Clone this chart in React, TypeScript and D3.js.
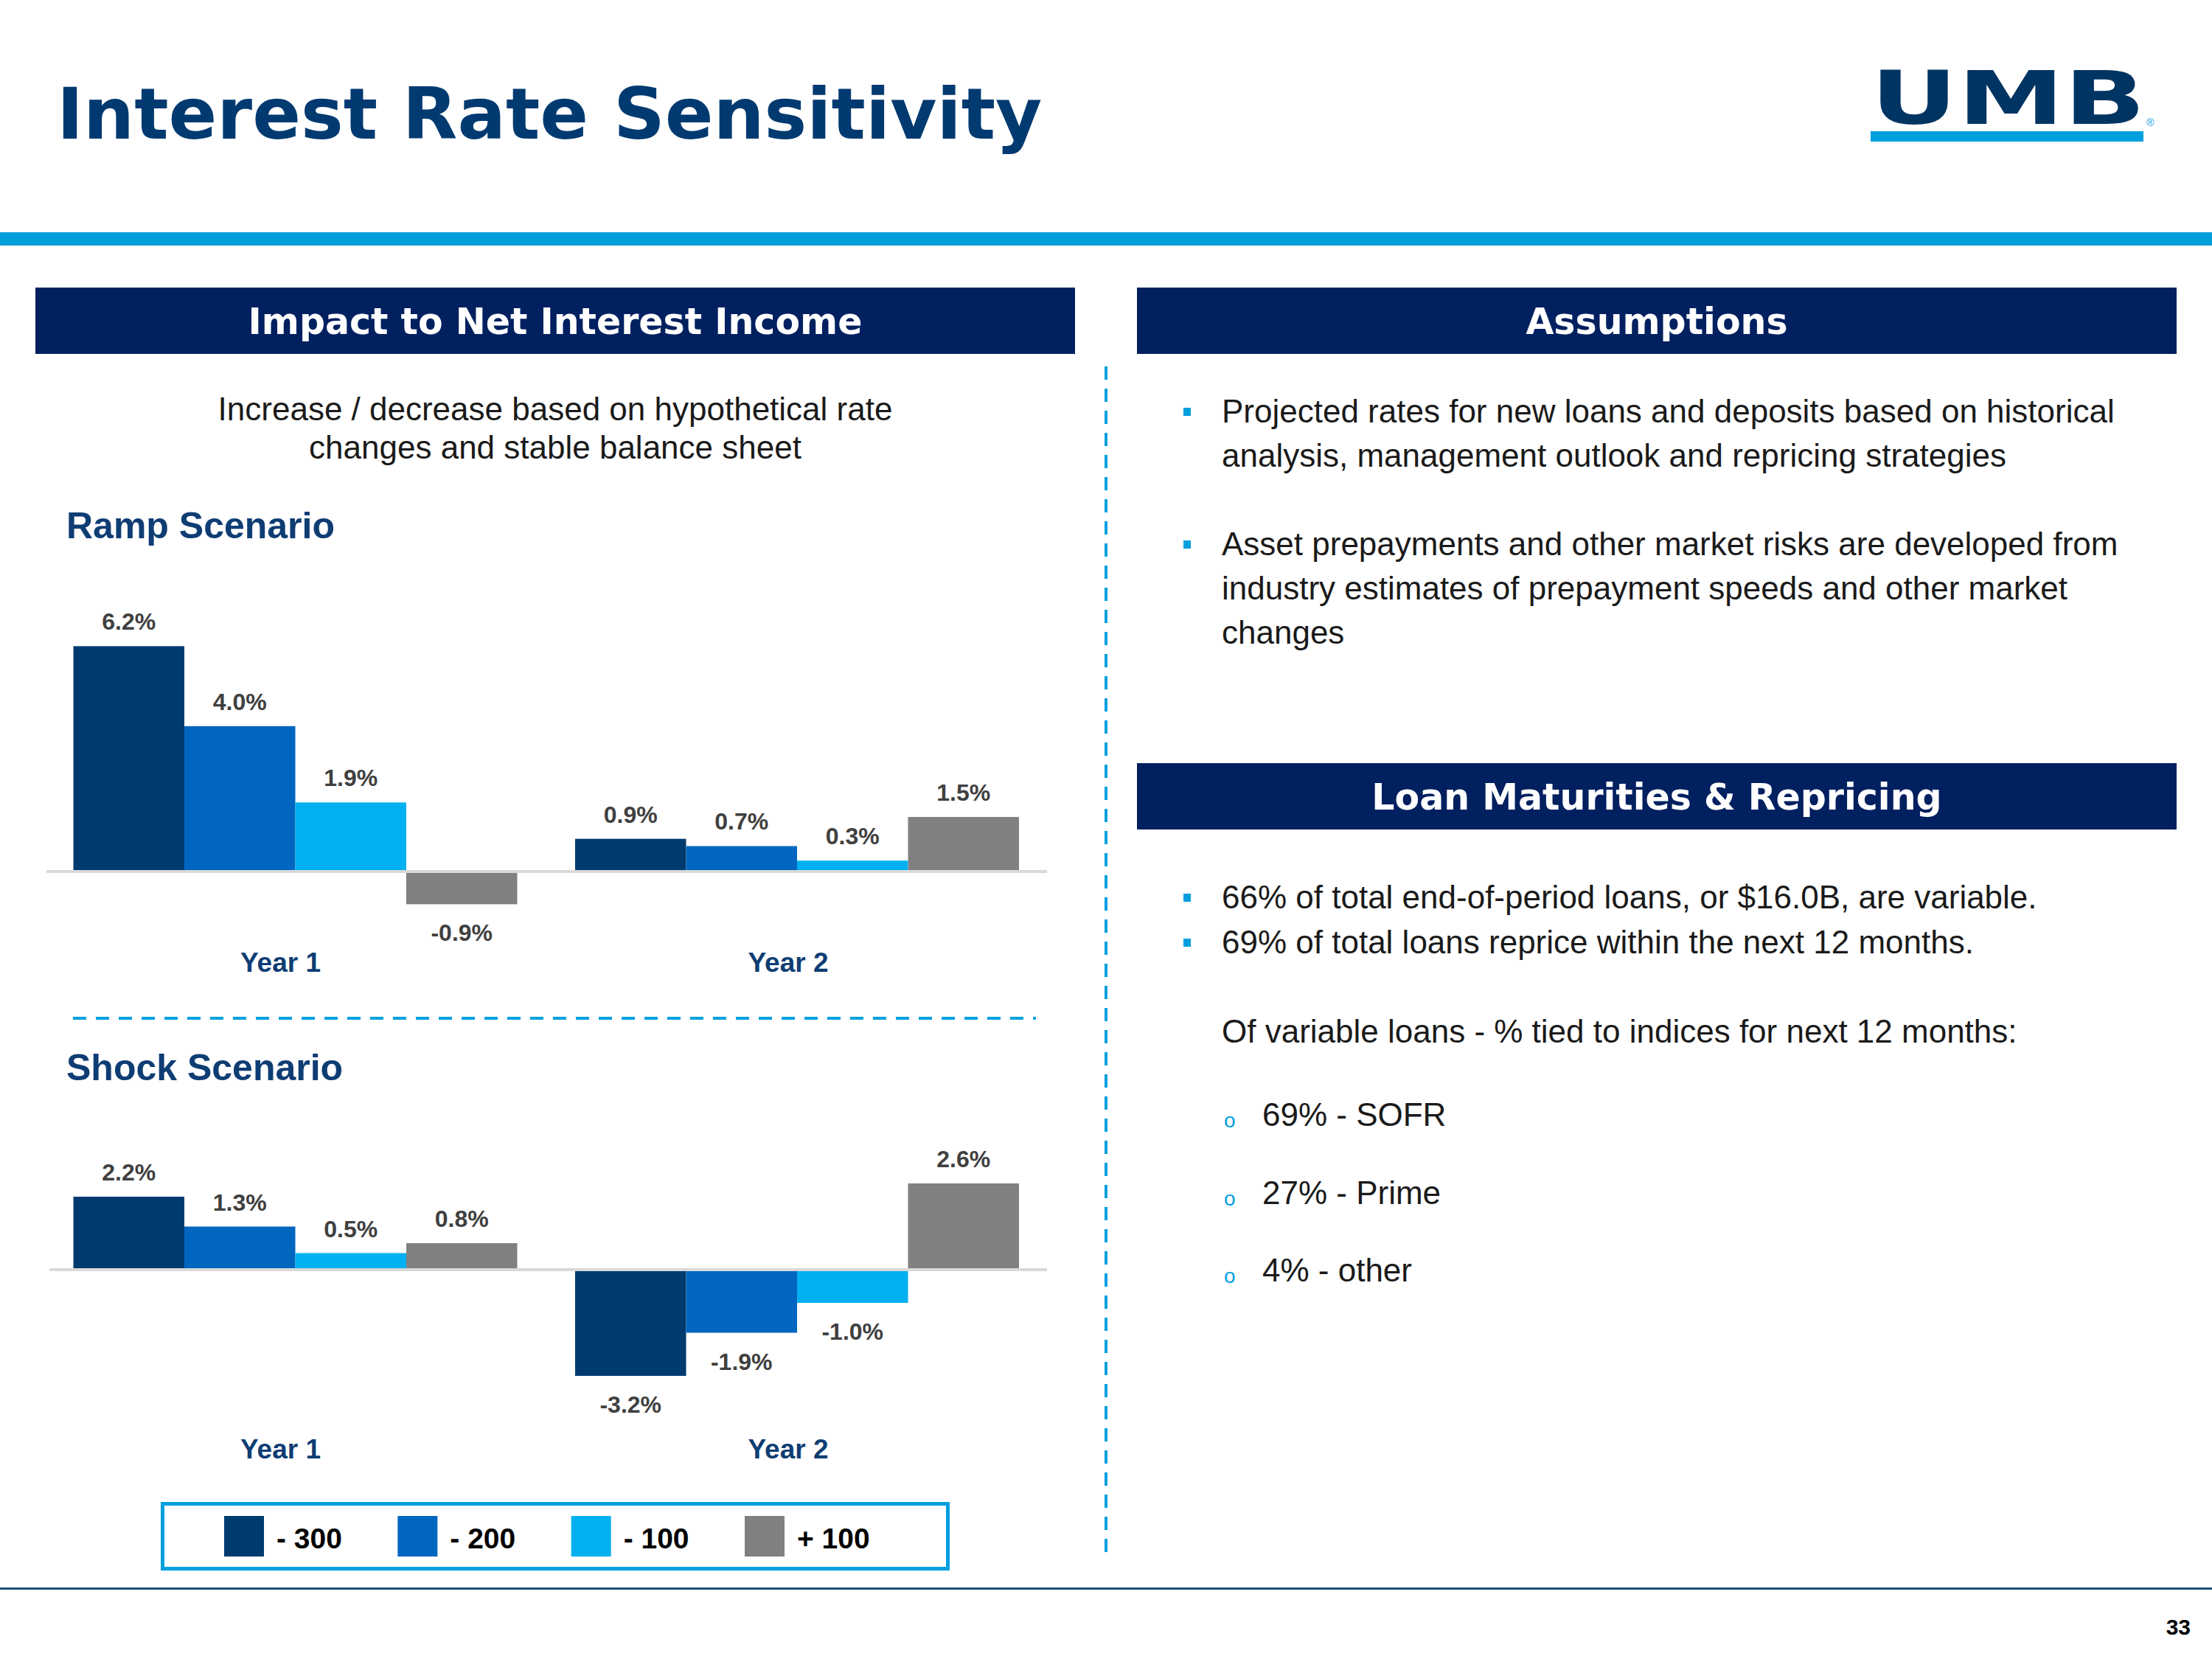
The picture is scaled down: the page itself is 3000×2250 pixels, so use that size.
import React, { useEffect } from 'react';
import * as d3 from 'd3';

const years = ['Year 1', 'Year 2'];
const seriesNames = ['- 300', '- 200', '- 100', '+ 100'];
const seriesColors = ['#003B6F', '#0066C0', '#00B0F0', '#808080'];
const rampValues = [
  [6.2, 4.0, 1.9, -0.9],
  [0.9, 0.7, 0.3, 1.5],
];
const shockValues = [
  [2.2, 1.3, 0.5, 0.8],
  [-3.2, -1.9, -1.0, 2.6],
];
const assumptionBullets = [
  ['Projected rates for new loans and deposits based on historical', 'analysis, management outlook and repricing strategies'],
  ['Asset prepayments and other market risks are developed from', 'industry estimates of prepayment speeds and other market', 'changes'],
];
const loanBullets = [
  '66% of total end-of-period loans, or $16.0B, are variable.',
  '69% of total loans reprice within the next 12 months.',
];
const indexLine = 'Of variable loans - % tied to indices for next 12 months:';
const indexItems = ['69% - SOFR', '27% - Prime', '4% - other'];

const ARIAL = "'Liberation Sans', Arial, sans-serif";
const VERDANA = "'DejaVu Sans', Verdana, sans-serif";
const NAVY = '#002060';
const TITLE_BLUE = '#003A70';
const LIGHT_BLUE = '#00A0DF';

function BarChart({ values, domain, range, lineX0 }: { values: number[][]; domain: [number, number]; range: [number, number]; lineX0: number }) {
  const x0 = d3.scaleBand<string>().domain(years).range([99.5, 1382]).paddingInner(0.1154).paddingOuter(0);
  const x1 = d3.scaleBand<string>().domain(seriesNames).range([0, x0.bandwidth()]).padding(0);
  const y = d3.scaleLinear().domain(domain).range(range);
  const fmt = (v: number) => v.toFixed(1) + '%';
  return (
    <g>
      {years.map((yr, gi) => (
        <g key={yr} transform={`translate(${x0(yr)},0)`}>
          {values[gi].map((v, si) => {
            const top = y(Math.max(0, v));
            const bot = y(Math.min(0, v));
            const cx = (x1(seriesNames[si]) as number) + x1.bandwidth() / 2;
            return (
              <g key={si}>
                <rect x={x1(seriesNames[si])} y={top} width={x1.bandwidth()} height={bot - top} fill={seriesColors[si]} />
                <text x={cx} y={v >= 0 ? top - 22 : bot + 50} textAnchor="middle" fontFamily={ARIAL} fontWeight="bold" fontSize={32} fill="#404040">{fmt(v)}</text>
              </g>
            );
          })}
        </g>
      ))}
      <line x1={lineX0} x2={1420} y1={y(0)} y2={y(0)} stroke="#D9D9D9" strokeWidth={4} />
    </g>
  );
}

function YearLabels({ yPos }: { yPos: number }) {
  const x0 = d3.scaleBand<string>().domain(years).range([99.5, 1382]).paddingInner(0.1154).paddingOuter(0);
  return (
    <g>
      {years.map((yr, i) => (
        <text key={yr} x={(x0(yr) as number) + x0.bandwidth() / 2 - 20 + 8 * i} y={yPos} textAnchor="middle" fontFamily={ARIAL} fontWeight="bold" fontSize={37} fill="#0E3D73">{yr}</text>
      ))}
    </g>
  );
}

export default function App() {
  useEffect(() => {
    document.body.style.margin = '0';
  }, []);
  const legendX = d3.scaleLinear().domain([0, 3]).range([304, 1010]);
  return (
    <svg width={3000} height={2250} viewBox="0 0 3000 2250" style={{ display: 'block', position: 'absolute', left: 0, top: 0, background: '#fff' }}>
      <rect x={0} y={0} width={3000} height={2250} fill="#fff" />
      {/* Title */}
      <text x={77} y={188} fontFamily={VERDANA} fontWeight="bold" fontSize={97} fill={TITLE_BLUE}>Interest Rate Sensitivity</text>
      {/* Logo */}
      <text x={2537} y={168} fontFamily={VERDANA} fontWeight="bold" fontSize={100} fill="#003462" textLength={373} lengthAdjust="spacingAndGlyphs">UMB</text>
      <rect x={2537} y={178} width={370} height={14} fill={LIGHT_BLUE} />
      <text x={2911} y={171} fontFamily={ARIAL} fontSize={14} fill={LIGHT_BLUE}>®</text>
      {/* Top band */}
      <rect x={0} y={315} width={3000} height={18} fill="#009FDA" />

      {/* Section headers */}
      <rect x={48} y={390} width={1410} height={90} fill={NAVY} />
      <text x={753} y={436} textAnchor="middle" dominantBaseline="central" fontFamily={VERDANA} fontWeight="bold" fontSize={49} fill="#fff">Impact to Net Interest Income</text>
      <rect x={1542} y={390} width={1410} height={90} fill={NAVY} />
      <text x={2247} y={436} textAnchor="middle" dominantBaseline="central" fontFamily={VERDANA} fontWeight="bold" fontSize={49} fill="#fff">Assumptions</text>
      <rect x={1542} y={1035} width={1410} height={90} fill={NAVY} />
      <text x={2247} y={1081} textAnchor="middle" dominantBaseline="central" fontFamily={VERDANA} fontWeight="bold" fontSize={49} fill="#fff">Loan Maturities &amp; Repricing</text>

      {/* Subtitle */}
      <text x={753} y={570} textAnchor="middle" fontFamily={ARIAL} fontSize={44} fill="#1a1a1a">Increase / decrease based on hypothetical rate</text>
      <text x={753} y={622} textAnchor="middle" fontFamily={ARIAL} fontSize={44} fill="#1a1a1a">changes and stable balance sheet</text>

      {/* Ramp */}
      <text x={90} y={730} fontFamily={ARIAL} fontWeight="bold" fontSize={50} fill="#0E3D73">Ramp Scenario</text>
      <BarChart values={rampValues} domain={[-2, 7]} range={[1182 + 2 * 49.3, 1182 - 7 * 49.3]} lineX0={63} />
      <YearLabels yPos={1318} />

      <line x1={99} x2={1405} y1={1381} y2={1381} stroke={LIGHT_BLUE} strokeWidth={4} strokeDasharray="18,13" />

      {/* Shock */}
      <text x={90} y={1465} fontFamily={ARIAL} fontWeight="bold" fontSize={50} fill="#0E3D73">Shock Scenario</text>
      <BarChart values={shockValues} domain={[-4, 3]} range={[1722 + 4 * 45, 1722 - 3 * 45]} lineX0={67} />
      <YearLabels yPos={1978} />

      {/* Legend */}
      <rect x={220.5} y={2039.5} width={1065} height={88} fill="none" stroke={LIGHT_BLUE} strokeWidth={5} />
      {seriesNames.map((s, i) => (
        <g key={s}>
          <rect x={legendX(i)} y={2056} width={54} height={55} fill={seriesColors[i]} />
          <text x={legendX(i) + 71} y={2100} fontFamily={ARIAL} fontWeight="bold" fontSize={39} fill="#000">{s}</text>
        </g>
      ))}

      {/* Vertical divider */}
      <line x1={1500} x2={1500} y1={497} y2={2114} stroke={LIGHT_BLUE} strokeWidth={4} strokeDasharray="18,12" />

      {/* Assumptions bullets */}
      {assumptionBullets.map((lines, bi) => {
        const base = bi === 0 ? 573 : 753;
        return (
          <g key={bi}>
            <rect x={1605} y={base - 20} width={10} height={11} fill={LIGHT_BLUE} />
            {lines.map((ln, li) => (
              <text key={li} x={1657} y={base + li * 60} fontFamily={ARIAL} fontSize={44} fill="#1a1a1a">{ln}</text>
            ))}
          </g>
        );
      })}

      {/* Loan bullets */}
      {loanBullets.map((ln, i) => (
        <g key={i}>
          <rect x={1605} y={1232 + i * 61 - 20} width={10} height={11} fill={LIGHT_BLUE} />
          <text x={1657} y={1232 + i * 61} fontFamily={ARIAL} fontSize={44} fill="#1a1a1a">{ln}</text>
        </g>
      ))}
      <text x={1657} y={1414} fontFamily={ARIAL} fontSize={44} fill="#1a1a1a">{indexLine}</text>
      {indexItems.map((it, i) => (
        <g key={it}>
          <text x={1660} y={1529 + i * 105.5} fontFamily={ARIAL} fontSize={28} fill={LIGHT_BLUE}>o</text>
          <text x={1712} y={1527 + i * 105.5} fontFamily={ARIAL} fontSize={44} fill="#1a1a1a">{it}</text>
        </g>
      ))}

      {/* Footer */}
      <rect x={0} y={2153} width={3000} height={3} fill="#1F4E79" />
      <text x={2971} y={2217} textAnchor="end" fontFamily={ARIAL} fontWeight="bold" fontSize={30} fill="#000">33</text>
    </svg>
  );
}
